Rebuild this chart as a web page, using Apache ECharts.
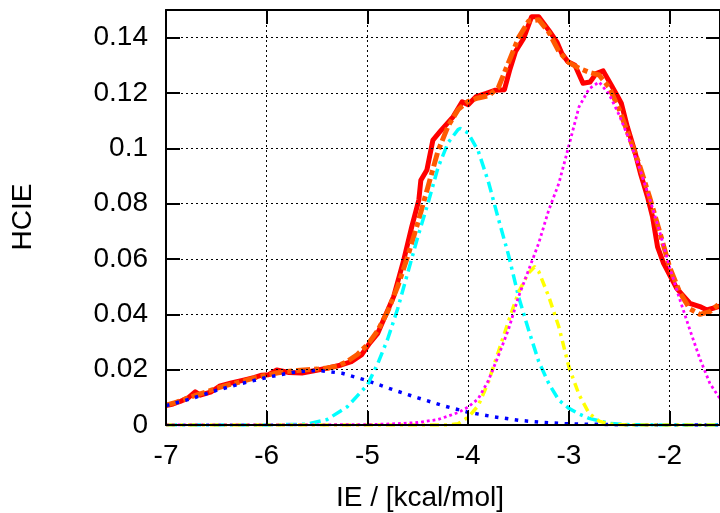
<!DOCTYPE html>
<html>
<head>
<meta charset="utf-8">
<script src="https://cdn.jsdelivr.net/npm/echarts@6/dist/echarts.min.js"></script>
<style>
html,body{margin:0;padding:0;background:#fff;}
#chart{width:720px;height:513px;}
</style>
</head>
<body>
<div id="chart"></div>
<script>
// ---- data ----
const xAxisTitle = 'IE / [kcal/mol]';
const yAxisTitle = 'HCIE';
const xRange = [-7, -1.5];
const yRange = [0, 0.15];

// histogram (red, solid)
const hcieData = [[-7.00,0.0070],[-6.93,0.0076],[-6.86,0.0085],[-6.78,0.0098],[-6.71,0.0120],[-6.66,0.0108],[-6.55,0.0120],[-6.47,0.0140],[-6.35,0.0152],[-6.22,0.0163],[-6.12,0.0172],[-6.05,0.0180],[-5.98,0.0182],[-5.90,0.0199],[-5.78,0.0190],[-5.65,0.0188],[-5.53,0.0196],[-5.39,0.0206],[-5.26,0.0217],[-5.16,0.0229],[-5.06,0.0253],[-4.98,0.0295],[-4.90,0.0330],[-4.84,0.0380],[-4.74,0.0464],[-4.64,0.0596],[-4.56,0.0717],[-4.49,0.0813],[-4.47,0.0885],[-4.41,0.0922],[-4.35,0.1030],[-4.28,0.1060],[-4.15,0.1114],[-4.06,0.1168],[-4.00,0.1158],[-3.92,0.1187],[-3.82,0.1199],[-3.73,0.1210],[-3.64,0.1212],[-3.59,0.1280],[-3.53,0.1350],[-3.45,0.1397],[-3.37,0.1476],[-3.30,0.1476],[-3.20,0.1427],[-3.12,0.1385],[-3.07,0.1343],[-3.01,0.1313],[-2.94,0.1300],[-2.86,0.1235],[-2.79,0.1240],[-2.73,0.1270],[-2.66,0.1280],[-2.58,0.1229],[-2.52,0.1190],[-2.48,0.1163],[-2.42,0.1078],[-2.35,0.0994],[-2.29,0.0910],[-2.22,0.0825],[-2.17,0.0753],[-2.12,0.0644],[-2.06,0.0584],[-1.99,0.0536],[-1.93,0.0494],[-1.86,0.0465],[-1.80,0.0440],[-1.70,0.0428],[-1.63,0.0416],[-1.57,0.0422],[-1.50,0.0430]];

// total fit (orange, dashed)
const fitData = [[-7.0,0.0072],[-6.9,0.0082],[-6.8,0.0095],[-6.7,0.0108],[-6.6,0.0120],[-6.5,0.0132],[-6.4,0.0143],[-6.3,0.0152],[-6.2,0.0162],[-6.1,0.0172],[-6.0,0.0180],[-5.9,0.0188],[-5.8,0.0193],[-5.7,0.0197],[-5.6,0.0200],[-5.5,0.0202],[-5.4,0.0206],[-5.3,0.0213],[-5.2,0.0230],[-5.1,0.0255],[-5.0,0.0290],[-4.9,0.0340],[-4.8,0.0410],[-4.7,0.0500],[-4.6,0.0610],[-4.5,0.0730],[-4.4,0.0860],[-4.3,0.0990],[-4.2,0.1080],[-4.1,0.1140],[-4.0,0.1170],[-3.9,0.1182],[-3.8,0.1190],[-3.7,0.1220],[-3.6,0.1310],[-3.5,0.1400],[-3.4,0.1460],[-3.3,0.1465],[-3.2,0.1420],[-3.1,0.1350],[-3.0,0.1310],[-2.9,0.1290],[-2.8,0.1275],[-2.7,0.1265],[-2.6,0.1220],[-2.5,0.1140],[-2.4,0.1040],[-2.3,0.0940],[-2.2,0.0825],[-2.1,0.0700],[-2.0,0.0570],[-1.9,0.0480],[-1.8,0.0420],[-1.7,0.0400],[-1.6,0.0410],[-1.5,0.0440]];

// component 1 (blue, dotted)
const comp1Data = [[-7.0,0.0070],[-6.75,0.0095],[-6.5,0.0125],[-6.25,0.0150],[-6.0,0.0172],[-5.75,0.0190],[-5.5,0.0198],[-5.25,0.0187],[-5.0,0.0160],[-4.75,0.0128],[-4.5,0.0098],[-4.25,0.0070],[-4.0,0.0046],[-3.75,0.0030],[-3.5,0.0017],[-3.25,0.0009],[-3.0,0.0004],[-2.5,0.0001],[-2.0,0.0000],[-1.5,0.0000]];

// component 2 (cyan, dash-dot)
const comp2Data = [[-7.0,0.0],[-6.0,0.0],[-5.6,0.0003],[-5.4,0.0020],[-5.2,0.0066],[-5.0,0.0145],[-4.9,0.0220],[-4.8,0.0310],[-4.7,0.0420],[-4.6,0.0550],[-4.5,0.0680],[-4.4,0.0800],[-4.3,0.0930],[-4.2,0.1020],[-4.1,0.1068],[-4.08,0.1072],[-4.0,0.1055],[-3.9,0.0990],[-3.8,0.0880],[-3.7,0.0745],[-3.6,0.0615],[-3.5,0.0464],[-3.4,0.0343],[-3.3,0.0230],[-3.2,0.0150],[-3.1,0.0090],[-3.0,0.0060],[-2.9,0.0040],[-2.8,0.0024],[-2.6,0.0006],[-2.4,0.0001],[-2.0,0.0],[-1.5,0.0]];

// component 3 (yellow, dash-dot)
const comp3Data = [[-7.0,0.0],[-4.2,0.0],[-4.1,0.0005],[-4.0,0.0028],[-3.9,0.0070],[-3.8,0.0155],[-3.7,0.0265],[-3.6,0.0375],[-3.5,0.0480],[-3.4,0.0550],[-3.34,0.0572],[-3.3,0.0555],[-3.2,0.0464],[-3.1,0.0355],[-3.0,0.0210],[-2.9,0.0110],[-2.8,0.0042],[-2.7,0.0014],[-2.6,0.0003],[-2.4,0.0],[-1.5,0.0]];

// component 4 (magenta, dotted)
const comp4Data = [[-7.0,0.0],[-5.0,0.0001],[-4.7,0.0005],[-4.5,0.0009],[-4.3,0.0020],[-4.2,0.0032],[-4.1,0.0045],[-4.0,0.0065],[-3.9,0.0095],[-3.8,0.0160],[-3.7,0.0250],[-3.6,0.0345],[-3.5,0.0464],[-3.4,0.0560],[-3.3,0.0657],[-3.2,0.0777],[-3.1,0.0873],[-3.0,0.1010],[-2.9,0.1150],[-2.8,0.1215],[-2.7,0.1240],[-2.6,0.1195],[-2.5,0.1120],[-2.4,0.1030],[-2.3,0.0930],[-2.2,0.0820],[-2.1,0.0700],[-2.0,0.0570],[-1.9,0.0455],[-1.8,0.0345],[-1.7,0.0240],[-1.6,0.0150],[-1.5,0.0095]];

// baseline component (green)
const comp5Data = [[-7.0,0.0],[-1.5,0.0]];

const FONT = 'Liberation Sans, Arial, Helvetica, sans-serif';
const FS = 28;

const chart = echarts.init(document.getElementById('chart'), null, {renderer:'canvas'});

function lineSeries(data, color, width, type, xi) {
  return {
    type: 'line', data: data, showSymbol: false, symbol: 'none',
    xAxisIndex: 0, yAxisIndex: 0, animation: false, silent: true,
    lineStyle: {color: color, width: width, type: type, cap: 'butt', join: 'round'},
    z: 3 + (xi || 0)
  };
}

const option = {
  animation: false,
  backgroundColor: '#fff',
  grid: {left: 166, top: 10, width: 561, height: 415, containLabel: false},
  xAxis: [
    {type: 'value', min: xRange[0], max: xRange[1], interval: 1, position: 'bottom',
     axisLine: {show: true, onZero: false, lineStyle: {color: '#000', width: 2}},
     axisTick: {show: true, inside: true, length: 14, lineStyle: {color: '#000', width: 2}},
     axisLabel: {show: true, showMaxLabel: false, margin: 17, color: '#000', fontFamily: FONT, fontSize: FS},
     splitLine: {show: true, lineStyle: {color: '#000', width: 1, type: [2, 3]}}, z: 10},
    {type: 'value', min: xRange[0], max: xRange[1], interval: 1, position: 'top',
     axisLine: {show: true, onZero: false, lineStyle: {color: '#000', width: 2}},
     axisTick: {show: true, inside: true, length: 14, lineStyle: {color: '#000', width: 2}},
     axisLabel: {show: false}, splitLine: {show: false}, z: 10}
  ],
  yAxis: [
    {type: 'value', min: yRange[0], max: yRange[1], interval: 0.02, position: 'left',
     axisLine: {show: true, onZero: false, lineStyle: {color: '#000', width: 2}},
     axisTick: {show: true, inside: true, length: 14, lineStyle: {color: '#000', width: 2}},
     axisLabel: {show: true, showMaxLabel: false, margin: 18, color: '#000', fontFamily: FONT, fontSize: FS,
       formatter: function (v) { return String(Math.round(v * 100) / 100); }},
     splitLine: {show: true, lineStyle: {color: '#000', width: 1, type: [2, 3]}}, z: 10},
    {type: 'value', min: yRange[0], max: yRange[1], interval: 0.02, position: 'right',
     axisLine: {show: true, onZero: false, lineStyle: {color: '#000', width: 2}},
     axisTick: {show: true, inside: true, length: 14, lineStyle: {color: '#000', width: 2}},
     axisLabel: {show: false}, splitLine: {show: false}, z: 10}
  ],
  series: [
    lineSeries(hcieData, '#ff0000', 5, 'solid', 0),
    lineSeries(fitData, '#ff5a00', 5, [14, 4, 5, 4], 1),
    lineSeries(comp1Data, '#0000ff', 3.5, [3.5, 6.5], 2),
    lineSeries(comp2Data, '#00ffff', 3.5, [11, 5, 3, 5], 3),
    lineSeries(comp3Data, '#ffff00', 3.5, [9, 5, 3, 5], 4),
    lineSeries(comp4Data, '#ff00ff', 2.8, [2.8, 3], 5),
    lineSeries(comp5Data, '#00b000', 1, 'solid', -2)
  ],
  graphic: [
    {type: 'text', x: 420, y: 498, style: {text: xAxisTitle, font: FS + 'px ' + FONT, fill: '#000', align: 'center', verticalAlign: 'middle'}},
    {type: 'text', x: 23, y: 217, rotation: Math.PI / 2, style: {text: yAxisTitle, font: FS + 'px ' + FONT, fill: '#000', align: 'center', verticalAlign: 'middle'}}
  ]
};
chart.setOption(option);
</script>
</body>
</html>
